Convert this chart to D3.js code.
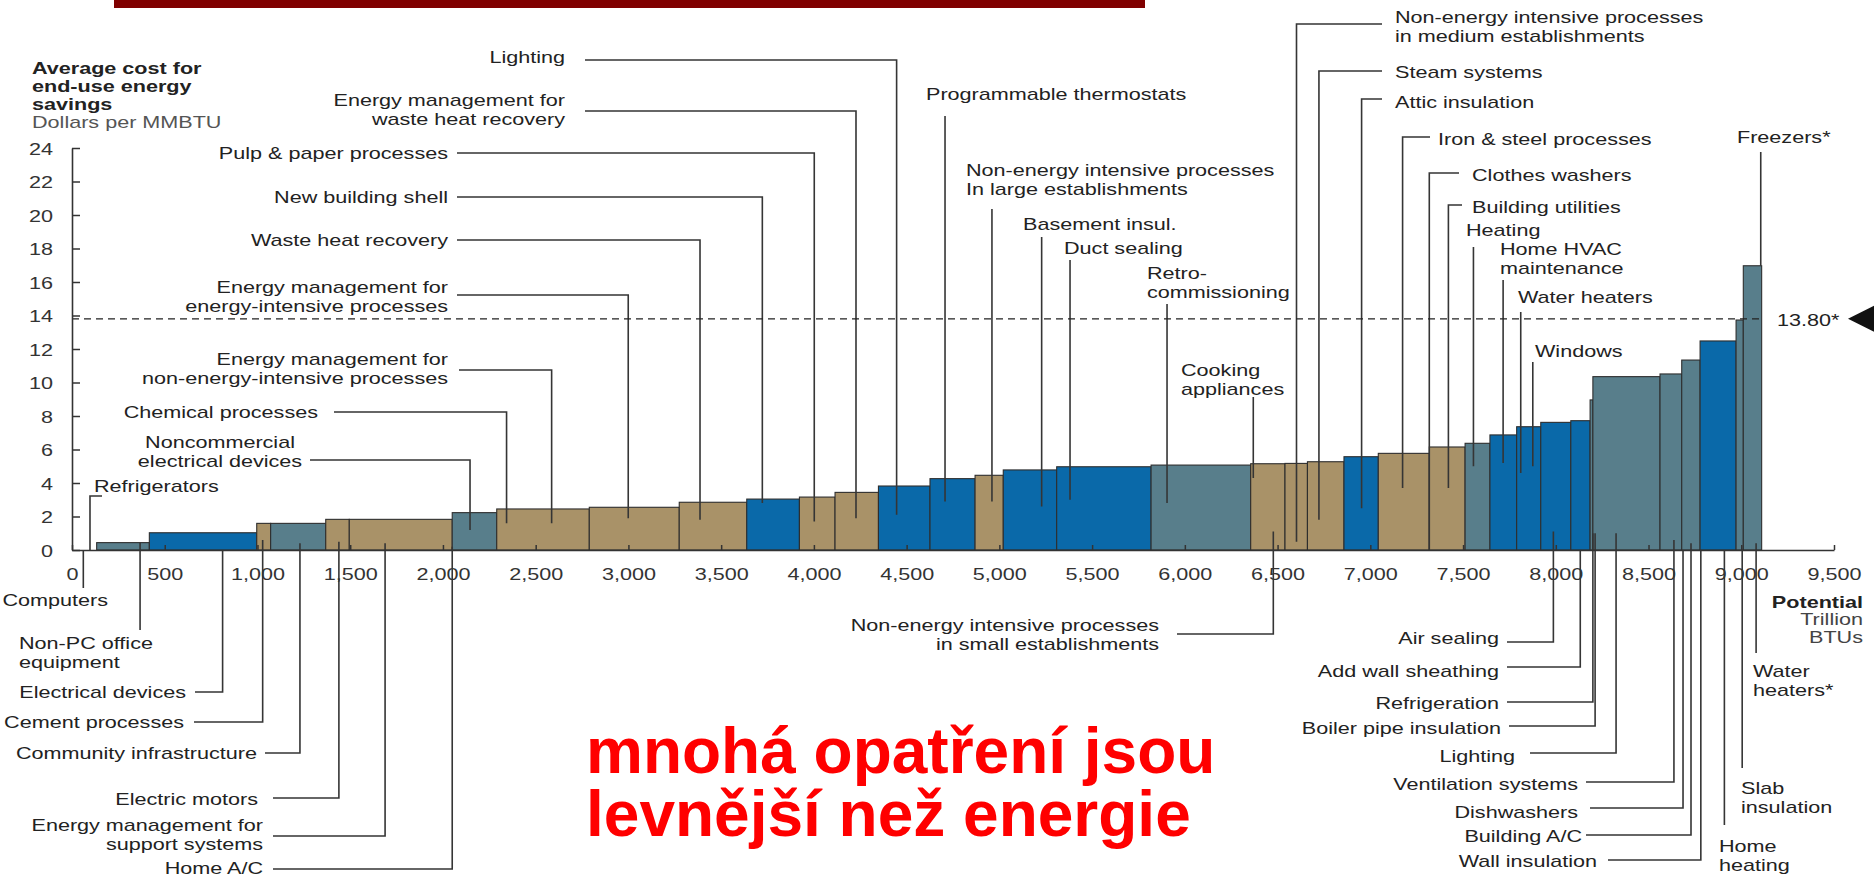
<!DOCTYPE html>
<html>
<head>
<meta charset="utf-8">
<script src="https://cdn.jsdelivr.net/npm/d3@7"></script>
<style>
  body { margin: 0; background: #fff; }
  svg { display: block; font-family: "Liberation Sans", Arial, sans-serif; }
</style>
</head>
<body>
<div id="container"></div>
<script>
// potential (trillion BTU) and average cost ($/MMBTU) of each measure, left to right
const barPotential = [133, 284, 579, 75, 297, 127, 555, 240, 499, 485,
                      364, 284, 192, 234, 278, 243, 152, 288, 509, 537,
                      185, 121, 197, 185, 275, 193, 134, 144, 130, 162,
                      104, 15, 362, 117, 99, 194, 39, 99];
const barCost = [0, 0.44, 1.03, 1.59, 1.59, 1.83, 1.83, 2.23, 2.45, 2.55,
                 2.85, 3.04, 3.16, 3.44, 3.82, 4.26, 4.46, 4.78, 4.97, 5.07,
                 5.15, 5.17, 5.27, 5.57, 5.77, 6.15, 6.37, 6.87, 7.36, 7.62,
                 7.72, 8.96, 10.35, 10.51, 11.34, 12.48, 13.73, 16.97];
// I = industrial, R = residential, C = commercial
const barSector = ['C', 'C', 'R', 'I', 'C', 'I', 'I', 'C', 'I', 'I',
                   'I', 'R', 'I', 'I', 'R', 'R', 'I', 'R', 'R', 'C',
                   'I', 'I', 'I', 'R', 'I', 'I', 'C', 'R', 'R', 'R',
                   'R', 'C', 'C', 'C', 'C', 'R', 'C', 'C'];

const xTicks = [0, 500, 1000, 1500, 2000, 2500, 3000, 3500, 4000, 4500,
                5000, 5500, 6000, 6500, 7000, 7500, 8000, 8500, 9000, 9500];
const yTicks = [0, 2, 4, 6, 8, 10, 12, 14, 16, 18, 20, 22, 24];
const avgPrice = 13.8;
const avgPriceLabel = '13.80*';

const yTitle = ['Average cost for', 'end-use energy', 'savings'];
const yUnit = 'Dollars per MMBTU';
const xTitle = ['Potential', 'Trillion', 'BTUs'];
const slogan = ['mnohá opatření jsou', 'levnější než energie'];

// callouts: label text, label placement (px), elbow (px) and the measure they point to (data units)
const callouts = [
  { text: ['Lighting'], tx: 565, ty: 57, a: 'end', hx: 585, ly: 60, at: 4446, tip: 2.1 },
  { text: ['Energy management for', 'waste heat recovery'], tx: 565, ty: 100, a: 'end', hx: 585, ly: 111, at: 4227, tip: 1.9 },
  { text: ['Pulp & paper processes'], tx: 448, ty: 153, a: 'end', hx: 457, ly: 153, at: 4002, tip: 1.7 },
  { text: ['New building shell'], tx: 448, ty: 197, a: 'end', hx: 457, ly: 197, at: 3722, tip: 2.8 },
  { text: ['Waste heat recovery'], tx: 448, ty: 240, a: 'end', hx: 457, ly: 240, at: 3386, tip: 1.8 },
  { text: ['Energy management for', 'energy-intensive processes'], tx: 448, ty: 287, a: 'end', hx: 457, ly: 295, at: 2999, tip: 1.9 },
  { text: ['Energy management for', 'non-energy-intensive processes'], tx: 448, ty: 359, a: 'end', hx: 459, ly: 370, at: 2586, tip: 1.6 },
  { text: ['Chemical processes'], tx: 318, ty: 412, a: 'end', hx: 334, ly: 412, at: 2343, tip: 1.6 },
  { text: ['Noncommercial', 'electrical devices'], tx: 220, ty: 442, a: 'middle', hx: 310, ly: 460, at: 2146, tip: 1.2 },
  { text: ['Refrigerators'], tx: 94, ty: 486, a: 'start', hx: 102, ly: 496, at: 97, tip: 0 },
  { text: ['Programmable thermostats'], tx: 926, ty: 94, a: 'start', hx: null, ly: 116, at: 4707, tip: 2.9 },
  { text: ['Non-energy intensive processes', 'In large establishments'], tx: 966, ty: 170, a: 'start', hx: null, ly: 209, at: 4960, tip: 2.9 },
  { text: ['Basement insul.'], tx: 1023, ty: 224, a: 'start', hx: null, ly: 237, at: 5228, tip: 2.6 },
  { text: ['Duct sealing'], tx: 1064, ty: 248, a: 'start', hx: null, ly: 260, at: 5381, tip: 3.0 },
  { text: ['Retro-', 'commissioning'], tx: 1147, ty: 273, a: 'start', hx: null, ly: 304, at: 5904, tip: 2.8 },
  { text: ['Cooking', 'appliances'], tx: 1181, ty: 370, a: 'start', hx: null, ly: 397, at: 6369, tip: 4.3 },
  { text: ['Non-energy intensive processes', 'in medium establishments'], tx: 1395, ty: 17, a: 'start', hx: 1382, ly: 24, at: 6602, tip: 0.5 },
  { text: ['Steam systems'], tx: 1395, ty: 72, a: 'start', hx: 1382, ly: 71, at: 6723, tip: 1.8 },
  { text: ['Attic insulation'], tx: 1395, ty: 102, a: 'start', hx: 1382, ly: 99, at: 6953, tip: 2.5 },
  { text: ['Iron & steel processes'], tx: 1438, ty: 139, a: 'start', hx: 1430, ly: 137, at: 7174, tip: 3.7 },
  { text: ['Clothes washers'], tx: 1472, ty: 175, a: 'start', hx: 1459, ly: 173, at: 7318, tip: 0 },
  { text: ['Building utilities'], tx: 1472, ty: 207, a: 'start', hx: 1462, ly: 205, at: 7421, tip: 3.7 },
  { text: ['Heating'], tx: 1466, ty: 230, a: 'start', hx: null, ly: 247, at: 7556, tip: 5.0 },
  { text: ['Home HVAC', 'maintenance'], tx: 1500, ty: 249, a: 'start', hx: null, ly: 280, at: 7716, tip: 5.2 },
  { text: ['Water heaters'], tx: 1518, ty: 297, a: 'start', hx: null, ly: 312, at: 7811, tip: 4.6 },
  { text: ['Windows'], tx: 1535, ty: 351, a: 'start', hx: null, ly: 362, at: 7876, tip: 5.0 },
  { text: ['Freezers*'], tx: 1737, ty: 137, a: 'start', hx: null, ly: 152, at: 9105, tip: 16.97 },
  { text: ['Computers'], tx: 108, ty: 600, a: 'end', hx: null, ly: 588, at: 61, tip: 0 },
  { text: ['Non-PC office', 'equipment'], tx: 19, ty: 643, a: 'start', hx: null, ly: 630, at: 367, tip: 0.44 },
  { text: ['Electrical devices'], tx: 186, ty: 692, a: 'end', hx: 195, ly: 692, at: 812, tip: 0 },
  { text: ['Cement processes'], tx: 184, ty: 722, a: 'end', hx: 194, ly: 722, at: 1028, tip: 0.6 },
  { text: ['Community infrastructure'], tx: 257, ty: 753, a: 'end', hx: 265, ly: 753, at: 1229, tip: 0.4 },
  { text: ['Electric motors'], tx: 258, ty: 799, a: 'end', hx: 273, ly: 798, at: 1439, tip: 0.5 },
  { text: ['Energy management for', 'support systems'], tx: 263, ty: 825, a: 'end', hx: 273, ly: 836, at: 1688, tip: 0.4 },
  { text: ['Home A/C'], tx: 263, ty: 868, a: 'end', hx: 273, ly: 869, at: 2050, tip: 0.2 },
  { text: ['Non-energy intensive processes', 'in small establishments'], tx: 1159, ty: 625, a: 'end', hx: 1177, ly: 634, at: 6477, tip: 1.1 },
  { text: ['Air sealing'], tx: 1499, ty: 638, a: 'end', hx: 1507, ly: 642, at: 7987, tip: 1.1 },
  { text: ['Add wall sheathing'], tx: 1499, ty: 671, a: 'end', hx: 1507, ly: 667, at: 8132, tip: 0 },
  { text: ['Refrigeration'], tx: 1499, ty: 703, a: 'end', hx: 1507, ly: 702, at: 8200, tip: 1.0 },
  { text: ['Boiler pipe insulation'], tx: 1501, ty: 728, a: 'end', hx: 1509, ly: 726, at: 8212, tip: 1.0 },
  { text: ['Lighting'], tx: 1515, ty: 756, a: 'end', hx: 1530, ly: 753, at: 8325, tip: 1.0 },
  { text: ['Ventilation systems'], tx: 1578, ty: 784, a: 'end', hx: 1586, ly: 782, at: 8637, tip: 0.6 },
  { text: ['Dishwashers'], tx: 1578, ty: 812, a: 'end', hx: 1590, ly: 808, at: 8686, tip: 0 },
  { text: ['Building A/C'], tx: 1582, ty: 836, a: 'end', hx: 1586, ly: 835, at: 8729, tip: 0.4 },
  { text: ['Wall insulation'], tx: 1597, ty: 861, a: 'end', hx: 1608, ly: 860, at: 8782, tip: 0 },
  { text: ['Home', 'heating'], tx: 1719, ty: 846, a: 'start', hx: null, ly: 825, at: 8909, tip: 0 },
  { text: ['Slab', 'insulation'], tx: 1741, ty: 788, a: 'start', hx: null, ly: 768, at: 9005, tip: 0 },
  { text: ['Water', 'heaters*'], tx: 1753, ty: 671, a: 'start', hx: null, ly: 653, at: 9080, tip: 0.4 }
];

const sectorColor = { I: '#a99268', R: '#0a69a9', C: '#587e8b' };
const ink = '#222';
const sx = 1.27;      // the source artwork is stretched horizontally
const fs = 17;
const lh = 19.5;

const width = 1874, height = 880;
const svg = d3.select('#container').append('svg')
              .attr('width', width)
              .attr('height', height);

const x = d3.scaleLinear().domain([0, 9500]).range([72, 1834]);
const y = d3.scaleLinear().domain([0, 24]).range([550, 148]);

// top banner
svg.append('rect')
   .attr('x', 114).attr('y', 0)
   .attr('width', 1031).attr('height', 8)
   .attr('fill', '#800000');

// bars
const ends = d3.cumsum(barPotential);
const bars = barPotential.map((w, i) => ({ x0: ends[i] - w, x1: ends[i], cost: barCost[i], sector: barSector[i] }))
                         .filter(d => d.cost > 0);

svg.append('g')
   .selectAll('rect')
   .data(bars)
   .enter()
   .append('rect')
   .attr('x', d => x(d.x0))
   .attr('y', d => y(d.cost))
   .attr('width', d => x(d.x1) - x(d.x0))
   .attr('height', d => y(0) - y(d.cost))
   .attr('fill', d => sectorColor[d.sector])
   .attr('stroke', '#2e2e2e')
   .attr('stroke-width', 1.1);

// leader lines
svg.append('g')
   .selectAll('path')
   .data(callouts)
   .enter()
   .append('path')
   .attr('d', d => d.hx === null
        ? `M${x(d.at)},${d.ly}V${y(d.tip)}`
        : `M${d.hx},${d.ly}H${x(d.at)}V${y(d.tip)}`)
   .attr('fill', 'none')
   .attr('stroke', '#353535')
   .attr('stroke-width', 1.6);

// average price line
svg.append('line')
   .attr('x1', x(0)).attr('x2', x(9110))
   .attr('y1', y(avgPrice)).attr('y2', y(avgPrice))
   .attr('stroke', ink)
   .attr('stroke-width', 1.4)
   .attr('stroke-dasharray', '7,5');

// axes
const yAxis = svg.append('g')
                 .attr('transform', `translate(${x(0)},0)`)
                 .call(d3.axisLeft(y).tickValues(yTicks).tickSizeInner(-8).tickSizeOuter(0).tickPadding(19));
const xAxis = svg.append('g')
                 .attr('transform', `translate(0,${y(0)})`)
                 .call(d3.axisBottom(x).tickValues(xTicks).tickSizeInner(-5).tickSizeOuter(0)
                         .tickFormat(d3.format(',')));

[yAxis, xAxis].forEach(ax => {
    ax.select('.domain').attr('stroke', '#333').attr('stroke-width', 1.6);
    ax.selectAll('.tick line').attr('stroke', '#333').attr('stroke-width', 1.5);
    ax.selectAll('.tick text')
      .attr('fill', '#333')
      .style('font-size', fs + 'px')
      .style('font-family', '"Liberation Sans", Arial, sans-serif');
});
yAxis.selectAll('.tick text')
     .attr('x', -19 / sx)
     .attr('dy', '0.36em')
     .attr('transform', `scale(${sx},1)`);
xAxis.selectAll('.tick text')
     .attr('y', 30)
     .attr('dy', 0)
     .attr('transform', `scale(${sx},1)`);

// generic stretched text block
function block(tx, ty, lines, anchor, opts = {}) {
    const g = svg.append('g').attr('transform', `translate(${tx},${ty}) scale(${sx},1)`);
    lines.forEach((s, i) => {
        g.append('text')
         .attr('y', i * (opts.lh || lh) + 6)
         .attr('text-anchor', anchor)
         .attr('fill', (opts.colors && opts.colors[i]) || ink)
         .style('font-size', fs + 'px')
         .style('font-weight', (opts.bold && opts.bold[i]) ? 'bold' : 'normal')
         .text(s);
    });
}

callouts.forEach(d => block(d.tx, d.ty, d.text, d.a));

// axis titles
block(32, 68, [...yTitle, yUnit], 'start', { lh: 18, bold: [true, true, true, false], colors: [ink, ink, ink, '#555'] });
block(1863, 602, xTitle, 'end', { lh: 17.5, bold: [true, false, false], colors: [ink, '#444', '#444'] });

// average price marker
block(1777, 320, [avgPriceLabel], 'start');
svg.append('path')
   .attr('d', `M1848,${y(avgPrice)}L1874,${y(avgPrice) - 13}L1874,${y(avgPrice) + 13}Z`)
   .attr('fill', '#111');

// slogan, one text element with a line per tspan
svg.append('text')
   .attr('x', 586)
   .attr('y', 773)
   .attr('fill', '#ff0000')
   .style('font-size', '64px')
   .style('font-weight', 'bold')
   .selectAll('tspan')
   .data(slogan)
   .enter()
   .append('tspan')
   .attr('x', 586)
   .attr('dy', (d, i) => i === 0 ? 0 : 63)
   .text(d => d);
</script>
</body>
</html>
